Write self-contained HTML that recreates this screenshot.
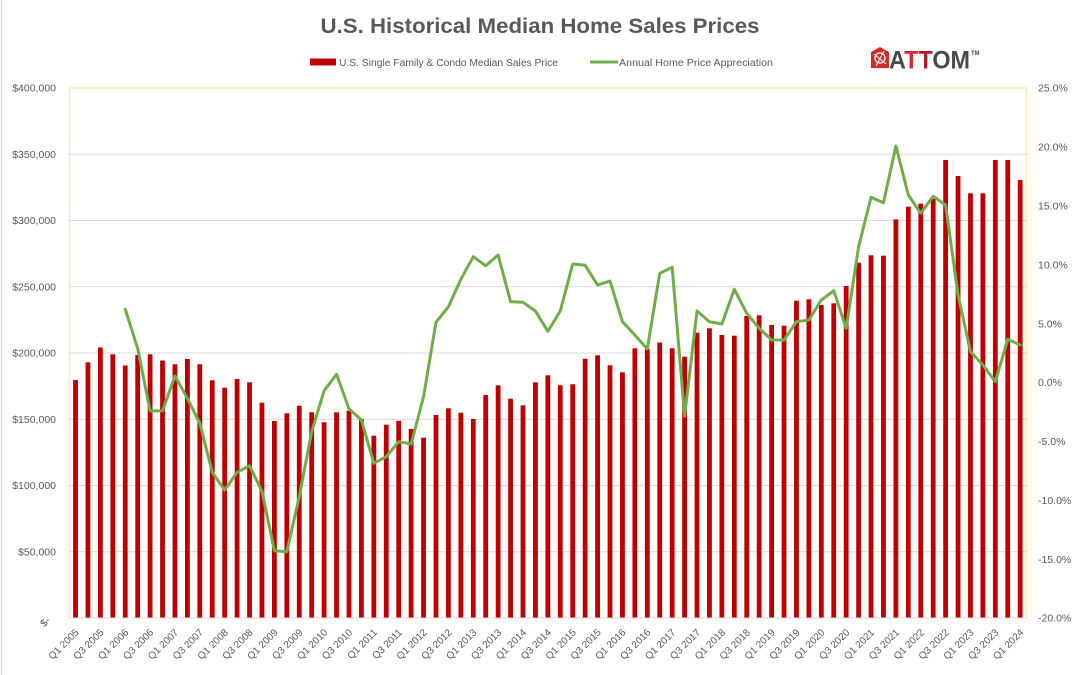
<!DOCTYPE html>
<html><head><meta charset="utf-8"><style>
html,body{margin:0;padding:0;background:#fff;}
svg{display:block;font-family:"Liberation Sans",Arial,sans-serif;}
</style></head><body>
<svg width="1080" height="675" viewBox="0 0 1080 675" xmlns="http://www.w3.org/2000/svg">
<rect x="0" y="0" width="1080" height="675" fill="#fff"/>
<line x1="1.5" y1="0" x2="1.5" y2="675" stroke="#d9d9d9" stroke-width="1"/>
<!-- title -->
<text x="540" y="33" text-anchor="middle" font-size="21" font-weight="bold" fill="#595959" textLength="439" lengthAdjust="spacingAndGlyphs">U.S. Historical Median Home Sales Prices</text>
<!-- legend -->
<rect x="310" y="58.5" width="26" height="7" fill="#c00000"/>
<text x="339" y="66" font-size="10" fill="#595959" textLength="219" lengthAdjust="spacingAndGlyphs">U.S. Single Family &amp; Condo Median Sales Price</text>
<line x1="590" y1="62" x2="618" y2="62" stroke="#70ad47" stroke-width="3"/>
<text x="619" y="66" font-size="10" fill="#595959" textLength="154" lengthAdjust="spacingAndGlyphs">Annual Home Price Appreciation</text>
<!-- logo -->
<g>
<path d="M871,52 L880,47 L889,52 L889,68 L871,68 Z" fill="#d42a2a"/>
<circle cx="880" cy="58" r="5" fill="none" stroke="#fff" stroke-width="1.2"/>
<line x1="874" y1="54" x2="886" y2="64" stroke="#fff" stroke-width="1"/>
<line x1="876" y1="66" x2="884" y2="51" stroke="#fff" stroke-width="1"/>
<text x="889" y="68.5" font-size="25" font-weight="bold" fill="#4a4a4a" textLength="81" lengthAdjust="spacingAndGlyphs">A<tspan fill="#d42a2a">T</tspan><tspan fill="#b01e23">T</tspan>OM</text>
<text x="971" y="55" font-size="6" font-weight="bold" fill="#4a4a4a">TM</text>
</g>
<!-- gridlines -->
<g stroke="#d9d9d9" stroke-width="1">
<line x1="69.3" y1="154.25" x2="1026.7" y2="154.25"/>
<line x1="69.3" y1="220.5" x2="1026.7" y2="220.5"/>
<line x1="69.3" y1="286.75" x2="1026.7" y2="286.75"/>
<line x1="69.3" y1="353" x2="1026.7" y2="353"/>
<line x1="69.3" y1="419.25" x2="1026.7" y2="419.25"/>
<line x1="69.3" y1="485.5" x2="1026.7" y2="485.5"/>
<line x1="69.3" y1="551.75" x2="1026.7" y2="551.75"/>
</g>
<!-- plot border -->
<path d="M69.3,618 L69.3,88 L1026.7,88 L1026.7,618" fill="none" stroke="#ffe08a" stroke-width="1"/>
<!-- bars -->
<g fill="#c00000">
<rect x="73.12" y="380" width="4.8" height="238"/>
<rect x="85.55" y="362.3" width="4.8" height="255.7"/>
<rect x="97.98" y="347.5" width="4.8" height="270.5"/>
<rect x="110.41" y="354.3" width="4.8" height="263.7"/>
<rect x="122.84" y="365.5" width="4.8" height="252.5"/>
<rect x="135.27" y="355" width="4.8" height="263"/>
<rect x="147.70" y="354.3" width="4.8" height="263.7"/>
<rect x="160.13" y="360.5" width="4.8" height="257.5"/>
<rect x="172.56" y="364.3" width="4.8" height="253.7"/>
<rect x="184.99" y="359" width="4.8" height="259"/>
<rect x="197.42" y="364.3" width="4.8" height="253.7"/>
<rect x="209.85" y="380.3" width="4.8" height="237.7"/>
<rect x="222.28" y="387.7" width="4.8" height="230.3"/>
<rect x="234.71" y="379" width="4.8" height="239"/>
<rect x="247.14" y="382.3" width="4.8" height="235.7"/>
<rect x="259.57" y="402.7" width="4.8" height="215.3"/>
<rect x="272.00" y="421" width="4.8" height="197"/>
<rect x="284.43" y="413.3" width="4.8" height="204.7"/>
<rect x="296.86" y="405.7" width="4.8" height="212.3"/>
<rect x="309.29" y="412.3" width="4.8" height="205.7"/>
<rect x="321.72" y="422.3" width="4.8" height="195.7"/>
<rect x="334.15" y="412.3" width="4.8" height="205.7"/>
<rect x="346.58" y="410.7" width="4.8" height="207.3"/>
<rect x="359.01" y="419" width="4.8" height="199"/>
<rect x="371.44" y="435.7" width="4.8" height="182.3"/>
<rect x="383.87" y="424.7" width="4.8" height="193.3"/>
<rect x="396.30" y="420.8" width="4.8" height="197.2"/>
<rect x="408.73" y="429" width="4.8" height="189"/>
<rect x="421.16" y="437.7" width="4.8" height="180.3"/>
<rect x="433.59" y="415" width="4.8" height="203"/>
<rect x="446.02" y="408.3" width="4.8" height="209.7"/>
<rect x="458.45" y="412.7" width="4.8" height="205.3"/>
<rect x="470.88" y="419" width="4.8" height="199"/>
<rect x="483.31" y="395" width="4.8" height="223"/>
<rect x="495.74" y="385.3" width="4.8" height="232.7"/>
<rect x="508.17" y="398.7" width="4.8" height="219.3"/>
<rect x="520.60" y="405.3" width="4.8" height="212.7"/>
<rect x="533.03" y="382.3" width="4.8" height="235.7"/>
<rect x="545.46" y="375.3" width="4.8" height="242.7"/>
<rect x="557.89" y="385.3" width="4.8" height="232.7"/>
<rect x="570.32" y="384.3" width="4.8" height="233.7"/>
<rect x="582.75" y="358.7" width="4.8" height="259.3"/>
<rect x="595.18" y="355.3" width="4.8" height="262.7"/>
<rect x="607.61" y="365.3" width="4.8" height="252.7"/>
<rect x="620.04" y="372.3" width="4.8" height="245.7"/>
<rect x="632.47" y="348.3" width="4.8" height="269.7"/>
<rect x="644.90" y="349" width="4.8" height="269"/>
<rect x="657.33" y="342.5" width="4.8" height="275.5"/>
<rect x="669.76" y="348.3" width="4.8" height="269.7"/>
<rect x="682.19" y="356.7" width="4.8" height="261.3"/>
<rect x="694.62" y="332.7" width="4.8" height="285.3"/>
<rect x="707.05" y="328.3" width="4.8" height="289.7"/>
<rect x="719.48" y="335" width="4.8" height="283"/>
<rect x="731.91" y="335.7" width="4.8" height="282.3"/>
<rect x="744.34" y="316" width="4.8" height="302"/>
<rect x="756.77" y="315.3" width="4.8" height="302.7"/>
<rect x="769.20" y="325" width="4.8" height="293"/>
<rect x="781.63" y="325.7" width="4.8" height="292.3"/>
<rect x="794.06" y="300.7" width="4.8" height="317.3"/>
<rect x="806.49" y="299.3" width="4.8" height="318.7"/>
<rect x="818.92" y="305" width="4.8" height="313"/>
<rect x="831.35" y="303.3" width="4.8" height="314.7"/>
<rect x="843.78" y="286" width="4.8" height="332"/>
<rect x="856.21" y="262.7" width="4.8" height="355.3"/>
<rect x="868.64" y="255.3" width="4.8" height="362.7"/>
<rect x="881.07" y="255.7" width="4.8" height="362.3"/>
<rect x="893.50" y="219.3" width="4.8" height="398.7"/>
<rect x="905.93" y="206.7" width="4.8" height="411.3"/>
<rect x="918.36" y="203.7" width="4.8" height="414.3"/>
<rect x="930.79" y="199" width="4.8" height="419"/>
<rect x="943.22" y="160" width="4.8" height="458"/>
<rect x="955.65" y="176" width="4.8" height="442"/>
<rect x="968.08" y="193.3" width="4.8" height="424.7"/>
<rect x="980.51" y="193.3" width="4.8" height="424.7"/>
<rect x="992.94" y="160" width="4.8" height="458"/>
<rect x="1005.37" y="160" width="4.8" height="458"/>
<rect x="1017.80" y="180" width="4.8" height="438"/>
</g>
<!-- bottom axis -->
<line x1="69.3" y1="618" x2="1026.7" y2="618" stroke="#d9d9d9" stroke-width="1"/>
<!-- green line -->
<polyline fill="none" stroke="#70ad47" stroke-width="3" stroke-linejoin="round" stroke-linecap="round" points="125.24,309.3 137.67,348.3 150.10,411 162.53,410.7 174.96,376 187.39,398.3 199.82,423.3 212.25,472.3 224.68,490 237.11,472.3 249.54,465.7 261.97,491.3 274.40,550.7 286.83,551.7 299.26,496.7 311.69,431.7 324.12,390.7 336.55,374.3 348.98,408.7 361.41,420 373.84,463.3 386.27,456.7 398.70,441.7 411.13,444 423.56,396.7 435.99,322.3 448.42,306.7 460.85,279.3 473.28,256.7 485.71,265.7 498.14,255 510.57,301.7 523.00,302.3 535.43,311 547.86,331.3 560.29,311 572.72,264 585.15,265.3 597.58,285 610.01,281 622.44,321.7 634.87,335 647.30,349 659.73,273.3 672.16,267.3 684.59,416 697.02,311 709.45,321.7 721.88,324 734.31,289.3 746.74,313.3 759.17,328.3 771.60,340 784.03,340 796.46,321.7 808.89,320 821.32,300 833.75,290.7 846.18,328.3 858.61,246.7 871.04,197.3 883.47,202.7 895.90,146 908.33,195 920.76,213.3 933.19,196.3 945.62,205 958.05,295 970.48,351.7 982.91,365 995.34,381.7 1007.77,339.3 1020.20,345"/>
<!-- left axis labels -->
<g font-size="10.5" fill="#595959" text-anchor="end">
<text x="56" y="91.7">$400,000</text>
<text x="56" y="158">$350,000</text>
<text x="56" y="224.2">$300,000</text>
<text x="56" y="290.5">$250,000</text>
<text x="56" y="356.7">$200,000</text>
<text x="56" y="423">$150,000</text>
<text x="56" y="489.2">$100,000</text>
<text x="56" y="555.5">$50,000</text>
<text x="51" y="621" transform="rotate(-45 51 621)">$-</text>
</g>
<!-- right axis labels -->
<g font-size="10.5" fill="#595959">
<text x="1038" y="91.7">25.0%</text>
<text x="1038" y="150.6">20.0%</text>
<text x="1038" y="209.5">15.0%</text>
<text x="1038" y="268.4">10.0%</text>
<text x="1038" y="327.3">5.0%</text>
<text x="1038" y="386.2">0.0%</text>
<text x="1038" y="445">-5.0%</text>
<text x="1038" y="503.9">-10.0%</text>
<text x="1038" y="562.8">-15.0%</text>
<text x="1038" y="621.7">-20.0%</text>
</g>
<!-- category labels -->
<g font-size="10" fill="#595959" text-anchor="end">
<text x="79.5" y="633" transform="rotate(-45 79.5 633)">Q1 2005</text>
<text x="104.4" y="633" transform="rotate(-45 104.4 633)">Q3 2005</text>
<text x="129.2" y="633" transform="rotate(-45 129.2 633)">Q1 2006</text>
<text x="154.1" y="633" transform="rotate(-45 154.1 633)">Q3 2006</text>
<text x="179.0" y="633" transform="rotate(-45 179.0 633)">Q1 2007</text>
<text x="203.8" y="633" transform="rotate(-45 203.8 633)">Q3 2007</text>
<text x="228.7" y="633" transform="rotate(-45 228.7 633)">Q1 2008</text>
<text x="253.5" y="633" transform="rotate(-45 253.5 633)">Q3 2008</text>
<text x="278.4" y="633" transform="rotate(-45 278.4 633)">Q1 2009</text>
<text x="303.3" y="633" transform="rotate(-45 303.3 633)">Q3 2009</text>
<text x="328.1" y="633" transform="rotate(-45 328.1 633)">Q1 2010</text>
<text x="353.0" y="633" transform="rotate(-45 353.0 633)">Q3 2010</text>
<text x="377.8" y="633" transform="rotate(-45 377.8 633)">Q1 2011</text>
<text x="402.7" y="633" transform="rotate(-45 402.7 633)">Q3 2011</text>
<text x="427.6" y="633" transform="rotate(-45 427.6 633)">Q1 2012</text>
<text x="452.4" y="633" transform="rotate(-45 452.4 633)">Q3 2012</text>
<text x="477.3" y="633" transform="rotate(-45 477.3 633)">Q1 2013</text>
<text x="502.1" y="633" transform="rotate(-45 502.1 633)">Q3 2013</text>
<text x="527.0" y="633" transform="rotate(-45 527.0 633)">Q1 2014</text>
<text x="551.9" y="633" transform="rotate(-45 551.9 633)">Q3 2014</text>
<text x="576.7" y="633" transform="rotate(-45 576.7 633)">Q1 2015</text>
<text x="601.6" y="633" transform="rotate(-45 601.6 633)">Q3 2015</text>
<text x="626.4" y="633" transform="rotate(-45 626.4 633)">Q1 2016</text>
<text x="651.3" y="633" transform="rotate(-45 651.3 633)">Q3 2016</text>
<text x="676.2" y="633" transform="rotate(-45 676.2 633)">Q1 2017</text>
<text x="701.0" y="633" transform="rotate(-45 701.0 633)">Q3 2017</text>
<text x="725.9" y="633" transform="rotate(-45 725.9 633)">Q1 2018</text>
<text x="750.7" y="633" transform="rotate(-45 750.7 633)">Q3 2018</text>
<text x="775.6" y="633" transform="rotate(-45 775.6 633)">Q1 2019</text>
<text x="800.5" y="633" transform="rotate(-45 800.5 633)">Q3 2019</text>
<text x="825.3" y="633" transform="rotate(-45 825.3 633)">Q1 2020</text>
<text x="850.2" y="633" transform="rotate(-45 850.2 633)">Q3 2020</text>
<text x="875.0" y="633" transform="rotate(-45 875.0 633)">Q1 2021</text>
<text x="899.9" y="633" transform="rotate(-45 899.9 633)">Q3 2021</text>
<text x="924.8" y="633" transform="rotate(-45 924.8 633)">Q1 2022</text>
<text x="949.6" y="633" transform="rotate(-45 949.6 633)">Q3 2022</text>
<text x="974.5" y="633" transform="rotate(-45 974.5 633)">Q1 2023</text>
<text x="999.3" y="633" transform="rotate(-45 999.3 633)">Q3 2023</text>
<text x="1024.2" y="633" transform="rotate(-45 1024.2 633)">Q1 2024</text>
</g>
</svg>
</body></html>
